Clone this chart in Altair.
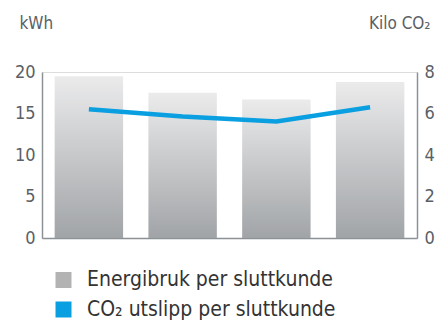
import altair as alt
import pandas as pd

categories = ["A", "B", "C", "D"]
energy_kwh = [19.5, 17.5, 16.7, 18.8]
co2_kilo = [6.2, 5.85, 5.62, 6.3]
legend_labels = ["Energibruk per sluttkunde", "CO\u2082 utslipp per sluttkunde"]
legend_colors = ["#b3b3b3", "#0a9fe0"]

df = pd.DataFrame({"cat": categories, "kwh": energy_kwh, "co2": co2_kilo})
leg = pd.DataFrame({"name": legend_labels})

FONT = "Liberation Sans Narrow, DejaVu Sans Condensed, Roboto Condensed, Roboto, sans-serif"
AX = "#8c9196"
LBL = "#5a6066"

xenc = alt.X("cat:N", sort=categories,
             scale=alt.Scale(paddingInner=0.27, paddingOuter=0.135),
             axis=alt.Axis(labels=False, ticks=False, title=None, domainColor=AX, domainWidth=1.5))

grad = alt.LinearGradient(
    gradient="linear",
    stops=[alt.GradientStop(color="#ebebec", offset=0), alt.GradientStop(color="#a1a4a7", offset=1)],
    x1=0, x2=0, y1=0, y2=1,
)

bars = alt.Chart(df).mark_bar(color=grad).encode(
    x=xenc,
    y=alt.Y("kwh:Q", scale=alt.Scale(domain=[0, 20]),
            axis=alt.Axis(orient="left", values=[0, 5, 10, 15, 20], ticks=False, grid=False,
                          domainColor=AX, domainWidth=1.5, labelPadding=7,
                          labelFontSize=18, labelColor=LBL, labelFont=FONT,
                          title="kWh", titleAngle=0, titleAlign="left", titleBaseline="alphabetic",
                          titleX=-23, titleY=-44, titleFontSize=17, titleFontWeight="normal",
                          titleColor=LBL, titleFont=FONT)),
)

line = alt.Chart(df).mark_line(color="#0a9fe0", strokeWidth=4.5).encode(
    x=alt.X("cat:N", sort=categories),
    y=alt.Y("co2:Q", scale=alt.Scale(domain=[0, 8]),
            axis=alt.Axis(orient="right", values=[0, 2, 4, 6, 8], ticks=False, grid=False,
                          domainColor=AX, domainWidth=1.5, labelPadding=7,
                          labelFontSize=18, labelColor=LBL, labelFont=FONT,
                          title="Kilo CO\u2082", titleAngle=0, titleAlign="right", titleBaseline="alphabetic",
                          titleX=13, titleY=-44, titleFontSize=17, titleFontWeight="normal",
                          titleColor=LBL, titleFont=FONT)),
)

legend_layer = alt.Chart(leg).mark_square(opacity=0, size=0).encode(
    x=alt.value(0), y=alt.value(0),
    color=alt.Color("name:N", sort=legend_labels,
                    scale=alt.Scale(domain=legend_labels, range=legend_colors),
                    legend=alt.Legend(orient="none", legendX=11, legendY=197.5, direction="vertical",
                                      title=None, symbolType="square", symbolSize=256,
                                      symbolOpacity=1, symbolStrokeWidth=0,
                                      labelFontSize=21, labelFont=FONT, labelColor="#333333",
                                      labelOffset=13, rowPadding=7.5, padding=0, labelLimit=400)),
)

chart = alt.layer(bars, line, legend_layer).resolve_scale(y="independent").properties(
    width=375, height=166,
    autosize=alt.AutoSizeParams(type="none"),
    padding={"left": 34, "top": 64, "right": 20, "bottom": 85},
).configure_view(stroke=None).configure(background="white")

chart.save("out.html", embed_options={"renderer": "svg", "actions": False})
